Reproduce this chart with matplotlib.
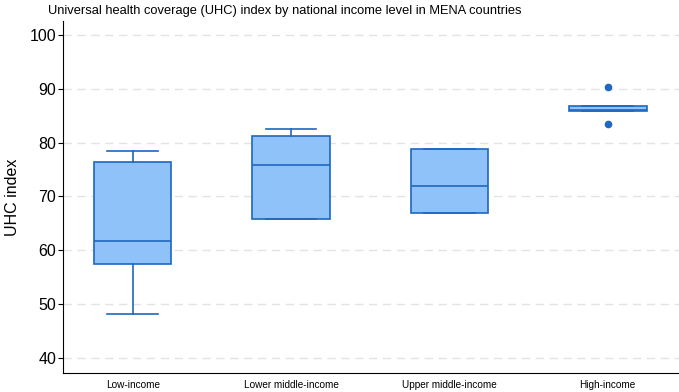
import matplotlib.pyplot as plt

plt.rcParams['font.family'] = ['Liberation Sans', 'DejaVu Sans']

groups = ["Low-income", "Lower middle-income", "Upper middle-income", "High-income"]
whislo = [48.1, 65.8, 66.9, 85.9]
q1 = [57.4, 65.8, 66.9, 85.9]
med = [61.7, 75.9, 71.9, 86.1]
q3 = [76.4, 81.2, 78.9, 86.9]
whishi = [78.5, 82.6, 78.9, 86.9]
fliers = [[], [], [], [90.3, 83.4]]

stats = []
for i, g in enumerate(groups):
    stats.append(dict(label=g, whislo=whislo[i], q1=q1[i], med=med[i],
                      q3=q3[i], whishi=whishi[i], fliers=fliers[i]))

edge = "#1f67c0"
fill = "#90c2fa"

fig = plt.figure(figsize=(6.79, 3.92), dpi=100)
ax = fig.add_axes([63 / 679, 1 - 373 / 392, 616 / 679, 352 / 392])

ax.bxp(stats, positions=range(4), widths=0.49, capwidths=0.32, patch_artist=True,
       boxprops=dict(facecolor=fill, edgecolor=edge, linewidth=1.2),
       medianprops=dict(color=edge, linewidth=1.2),
       whiskerprops=dict(color=edge, linewidth=1.2),
       capprops=dict(color=edge, linewidth=1.2),
       flierprops=dict(marker='o', markerfacecolor=edge, markeredgecolor=edge, markersize=4.5))

ax.set_xlim(-0.44, 3.45)
ax.set_ylim(37.2, 102.6)
ax.set_yticks([40, 50, 60, 70, 80, 90, 100])
ax.yaxis.grid(True, color="#e3e3e3", linestyle=(0, (6, 4)), linewidth=1)
ax.set_axisbelow(True)
ax.spines['top'].set_visible(False)
ax.spines['right'].set_visible(False)
ax.tick_params(axis='x', length=0, pad=5, labelsize=7.2)
ax.tick_params(axis='y', length=3.5, labelsize=11.5, pad=1.5)
ax.set_ylabel("UHC index", fontsize=11.5, labelpad=7)
ax.set_title("Universal health coverage (UHC) index by national income level in MENA countries",
             fontsize=9.3, x=0.36, pad=5)

fig.savefig("out.png", dpi=100)
